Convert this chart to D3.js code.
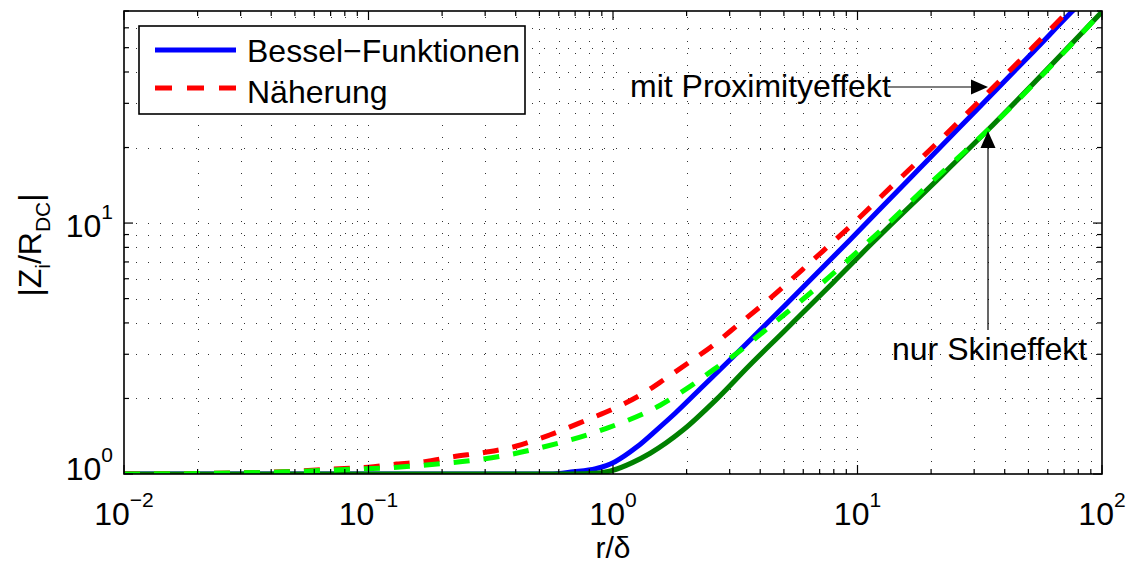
<!DOCTYPE html>
<meta charset="utf-8">
<style>
body { margin: 0; background: #fff; }
text { font-family: "Liberation Sans", Arial, Helvetica, sans-serif; fill: #000; }
.grid line { stroke: #000; stroke-width: 1; stroke-dasharray: 1,11; opacity: 0.8; }
.axis line { stroke: #000; stroke-width: 1.2; }
</style>
<body>
<svg width="1129" height="563"></svg>
<script src="https://d3js.org/d3.v7.min.js"></script>
<script>

// r/delta , |Z/R_DC|
var besselProx = [[0.01,1],[0.3,1],[0.55,1.0],[0.686,1.02],[0.85,1.05],[1.02,1.12],[1.25,1.28],[1.51,1.5],[1.8,1.75],[2.27,2.18],[3.31,3.12],[5,4.65],[9.31,8.56],[16.4,15.1],[19.8,18.2],[30,27.6],[52.4,48.2],[75,69.3],[100,92]];
var besselSkin = [[0.01,1],[0.6,1],[0.75,1.003],[0.9,1.012],[1.0,1.035],[1.2,1.11],[1.42,1.21],[1.94,1.5],[2.63,1.97],[3.63,2.72],[5,3.7],[7.96,5.8],[11.6,8.4],[21.1,14.8],[33.7,23.2],[99.7,69.3]];
var naehProx = [[0.01,1],[0.02,1.005],[0.03,1.01],[0.05,1.025],[0.07,1.045],[0.1,1.065],[0.13,1.095],[0.17,1.12],[0.22,1.17],[0.3,1.22],[0.4,1.29],[0.55,1.43],[0.78,1.64],[1.02,1.83],[1.29,2.06],[1.61,2.37],[2.06,2.8],[2.63,3.32],[3.0,3.69],[4.39,5.01],[6.59,7.14],[9.61,9.97],[14,14.2],[19.8,19.6],[30,29.2],[52.4,50.4],[72,69.3],[100,96]];
var naehSkin = [[0.01,1],[0.03,1.01],[0.045,1.02],[0.06,1.03],[0.085,1.045],[0.12,1.058],[0.16,1.08],[0.21,1.105],[0.28,1.14],[0.37,1.19],[0.5,1.27],[0.94,1.52],[1.56,1.88],[2.06,2.23],[2.57,2.6],[3.21,3.03],[4.53,3.98],[7.96,6.3],[10,7.7],[12.4,9.3],[18,13.2],[33.7,23.2],[100,69.5]];

var xMajor = [0.01, 0.1, 1, 10, 100];
var xExp = ["\u22122", "\u22121", "0", "1", "2"];
var yMajor = [1, 10];
var yExp = ["0", "1"];

var svg = d3.select("svg");
var L = 124, R = 1102, T = 11, B = 474;

var x = d3.scaleLog().domain([0.01, 100]).range([L, R]);
var y = d3.scaleLog().domain([1, 70]).range([B, T]);

svg.append("defs").append("clipPath").attr("id", "clip")
  .append("rect").attr("x", L).attr("y", T).attr("width", R - L).attr("height", B - T);

// grid
var grid = svg.append("g").attr("class", "grid");
grid.selectAll(".gx").data(x.ticks().filter(function(d){ return x(d) > L + 1 && x(d) < R - 1; }))
  .enter().append("line")
  .attr("x1", function(d){ return Math.round(x(d)) + 0.5; }).attr("x2", function(d){ return Math.round(x(d)) + 0.5; })
  .attr("y1", B).attr("y2", T);
grid.selectAll(".gy").data(y.ticks().filter(function(d){ return y(d) > T + 1 && y(d) < B - 1; }))
  .enter().append("line")
  .attr("y1", function(d){ return Math.round(y(d)) + 0.5; }).attr("y2", function(d){ return Math.round(y(d)) + 0.5; })
  .attr("x1", L).attr("x2", R);

// curves
var line = d3.line()
  .x(function(d){ return x(d[0]); })
  .y(function(d){ return y(d[1]); })
  .curve(d3.curveMonotoneX);

var plot = svg.append("g").attr("clip-path", "url(#clip)");
function draw(data, color, dash) {
  plot.append("path").datum(data)
    .attr("d", line)
    .attr("fill", "none")
    .attr("stroke", color)
    .attr("stroke-width", 5)
    .attr("stroke-dasharray", dash)
    .attr("stroke-linejoin", "round");
}
draw(besselProx, "#0000ff", null);
draw(besselSkin, "#008000", null);
draw(naehProx, "#ff0000", "16,14");
draw(naehSkin, "#00ff00", "16,14");

// axes box and ticks (inward, all sides)
var ax = svg.append("g").attr("class", "axis");
var isMajorX = function(d){ return xMajor.indexOf(d) >= 0; };
var isMajorY = function(d){ return yMajor.indexOf(d) >= 0; };
ax.selectAll(".tb").data(x.ticks()).enter().append("line")
  .attr("x1", function(d){ return x(d); }).attr("x2", function(d){ return x(d); })
  .attr("y1", B).attr("y2", function(d){ return B - (isMajorX(d) ? 9 : 5); });
ax.selectAll(".tt").data(x.ticks()).enter().append("line")
  .attr("x1", function(d){ return x(d); }).attr("x2", function(d){ return x(d); })
  .attr("y1", T).attr("y2", function(d){ return T + (isMajorX(d) ? 9 : 5); });
ax.selectAll(".tl").data(y.ticks()).enter().append("line")
  .attr("y1", function(d){ return y(d); }).attr("y2", function(d){ return y(d); })
  .attr("x1", L).attr("x2", function(d){ return L + (isMajorY(d) ? 9 : 5); });
ax.selectAll(".tr").data(y.ticks()).enter().append("line")
  .attr("y1", function(d){ return y(d); }).attr("y2", function(d){ return y(d); })
  .attr("x1", R).attr("x2", function(d){ return R - (isMajorY(d) ? 9 : 5); });
svg.append("rect").attr("x", L).attr("y", T).attr("width", R - L).attr("height", B - T)
  .attr("fill", "none").attr("stroke", "#000").attr("stroke-width", 1.6);

// tick labels
var xl = svg.selectAll(".xl").data(xMajor).enter().append("text")
  .attr("x", function(d){ return x(d); }).attr("y", 525)
  .attr("text-anchor", "middle").style("font-size", "32px");
xl.append("tspan").text("10");
xl.append("tspan").attr("dy", -18).style("font-size", "21px").text(function(d, i){ return xExp[i]; });

var yl = svg.selectAll(".yl").data(yMajor).enter().append("text")
  .attr("x", 113).attr("y", function(d){ return Math.min(y(d) + 14, 480); })
  .attr("text-anchor", "end").style("font-size", "32px");
yl.append("tspan").text("10");
yl.append("tspan").attr("dy", -18).style("font-size", "21px").text(function(d, i){ return yExp[i]; });

// axis labels
svg.append("text").attr("x", x(1)).attr("y", 558).attr("text-anchor", "middle")
  .style("font-size", "30px").text("r/\u03b4");

var ylab = svg.append("text").attr("transform", "translate(41,245) rotate(-90)")
  .attr("text-anchor", "middle").style("font-size", "32px");
ylab.append("tspan").text("|Z");
ylab.append("tspan").attr("dy", 9).style("font-size", "21px").text("i");
ylab.append("tspan").attr("dy", -9).text("/R");
ylab.append("tspan").attr("dy", 9).style("font-size", "21px").text("DC");
ylab.append("tspan").attr("dy", -9).text("|");

// legend
var lg = svg.append("g");
lg.append("rect").attr("x", 139).attr("y", 26).attr("width", 386).attr("height", 88)
  .attr("fill", "#fff").attr("stroke", "#000").attr("stroke-width", 1.6);
lg.append("line").attr("x1", 155).attr("x2", 236).attr("y1", 50).attr("y2", 50)
  .attr("stroke", "#0000ff").attr("stroke-width", 5);
lg.append("line").attr("x1", 155).attr("x2", 236).attr("y1", 88).attr("y2", 88)
  .attr("stroke", "#ff0000").attr("stroke-width", 5).attr("stroke-dasharray", "17,15");
lg.append("text").attr("x", 247).attr("y", 62).style("font-size", "32px").text("Bessel\u2212Funktionen");
lg.append("text").attr("x", 247).attr("y", 103).style("font-size", "32px").text("N\u00e4herung");

// annotations
var an = svg.append("g");
an.append("text").attr("x", 630).attr("y", 97).style("font-size", "32px").text("mit Proximityeffekt");
an.append("line").attr("x1", 888).attr("x2", 972).attr("y1", 87).attr("y2", 87)
  .attr("stroke", "#000").attr("stroke-width", 1.2);
an.append("path").attr("d", "M988,87 L971,79.5 L971,94.5 Z").attr("fill", "#000");
an.append("text").attr("x", 892).attr("y", 360).style("font-size", "32px").text("nur Skineffekt");
an.append("line").attr("x1", 988).attr("x2", 988).attr("y1", 330).attr("y2", 147)
  .attr("stroke", "#000").attr("stroke-width", 1.2);
an.append("path").attr("d", "M988,131 L980.5,148 L995.5,148 Z").attr("fill", "#000");

</script>
</body>
</html>
